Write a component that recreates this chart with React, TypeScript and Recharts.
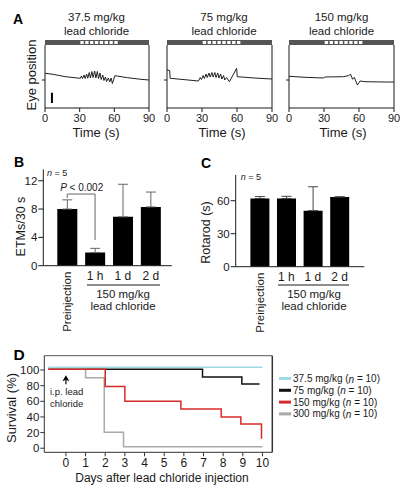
import React from "react";
import {
  LineChart,
  Line,
  XAxis,
  YAxis,
  BarChart,
  Bar,
  ErrorBar,
  ReferenceLine,
  ReferenceArea,
  ReferenceDot,
} from "recharts";

const FONT = "'Liberation Sans', Arial, Helvetica, sans-serif";
const INK = "#1a1a1a";

// ---- A: eye position traces (arbitrary units) vs time (s) ----
const timeTicks = [0, 30, 60, 90];
const stimStarts = [30.6, 34.8, 39.0, 43.2, 47.4, 51.6, 55.8, 60.0];
const stimWidth = 2.9;

const trace375: [number, number][] = [
  [0, 34.7], [7, 33.7], [17.5, 31.3], [30.6, 29.7],
  [31.5, 32], [32.5, 29.5], [33.8, 33], [34.8, 29.5], [36, 34], [37, 29.8],
  [38.3, 35.5], [39.3, 30], [40.6, 36.5], [41.6, 30.5], [43, 37], [44, 30],
  [45.3, 36.5], [46.3, 29.5], [47.6, 35], [48.6, 28.5], [50, 33], [51, 27.5],
  [52.3, 31], [53.3, 26.5], [54.8, 30], [56, 26], [57.2, 30], [58.3, 24.5],
  [60.5, 32.3], [71.4, 30.3], [83, 28.7], [90, 28],
];

const trace75: [number, number][] = [
  [0, 38], [2.3, 37.5], [2.7, 29.7], [15.4, 28.3], [26.9, 27],
  [28.5, 30.5], [29.5, 28.5], [31, 32.5], [32, 29.5], [33.5, 34], [34.5, 30.5],
  [36, 35], [37, 31], [38.5, 35.5], [39.5, 31], [41, 35.5], [42, 30.5],
  [43.5, 35], [44.5, 30], [46, 34], [47, 29], [48.5, 32.5], [49.5, 28],
  [51, 30.5], [53.5, 26.3], [59.7, 39.7], [60.2, 31.3], [75, 30], [90, 29],
];

const trace150: [number, number][] = [
  [0, 31.7], [13.7, 30.7], [29.4, 30], [30.9, 31], [46.6, 31.3], [50.8, 32.3],
  [52.8, 33.7], [54.5, 28.7], [56, 30.7], [58.6, 23], [60.9, 27], [65, 26.3],
  [82, 26], [90, 26],
];

const doseTitles = ["37.5 mg/kg", "75 mg/kg", "150 mg/kg"];

// ---- B / C: bar charts ----
const groups = ["Preinjection", "1 h", "1 d", "2 d"];
const etmMean = [8, 1.85, 6.9, 8.3];
const etmErr = [1.3, 0.6, 4.6, 2.1];
const rotarodMean = [62, 62, 51, 63.5];
const rotarodErr = [1.8, 2.0, 21.7, 0];

// ---- D: survival ----
const dayTicks = [0, 1, 2, 3, 4, 5, 6, 7, 8, 9, 10];
const survivalTicks = [0, 20, 40, 60, 80, 100];
const days375 = [-0.9, 10];
const pct375 = [103.5, 103.5];
const days75 = [-0.9, 6.95, 8.95, 9.85];
const pct75 = [101, 91, 82, 82];
const days150 = [-0.9, 2, 3, 5.85, 7.9, 8.9, 9.95];
const pct150 = [101, 79, 60, 50, 40, 31, 12];
const days300 = [-0.9, 1, 1.95, 2.93, 10];
const pct300 = [101, 90, 20.5, 2, 2];

const survivalSeries = [
  { key: "s375", label: "37.5 mg/kg", color: "#9fdbe4", days: days375, pct: pct375 },
  { key: "s75", label: "75 mg/kg", color: "#111111", days: days75, pct: pct75 },
  { key: "s150", label: "150 mg/kg", color: "#d62a2a", days: days150, pct: pct150 },
  { key: "s300", label: "300 mg/kg", color: "#a9a9a9", days: days300, pct: pct300 },
];
// drawing order (red on top of the shared 100% line)
const drawOrder = ["s375", "s75", "s300", "s150"];

const tickStyle = (size: number) => ({ fontSize: size, fill: INK, fontFamily: FONT });

function TraceChart({
  trace,
  left,
  width,
  scaleBar,
}: {
  trace: [number, number][];
  left: number;
  width: number;
  scaleBar?: boolean;
}) {
  const data = trace.map(([t, v]) => ({ t, v }));
  return (
    <div style={{ position: "absolute", left: left - 20, top: 0 }}>
      <LineChart
        width={width + 30}
        height={140}
        data={data}
        margin={{ top: 45, right: 10, bottom: 12, left: 14 }}
      >
        <XAxis
          dataKey="t"
          type="number"
          domain={[0, 90]}
          ticks={timeTicks}
          allowDataOverflow
          height={20}
          tickSize={4}
          tickMargin={2}
          stroke={INK}
          tick={tickStyle(11)}
        />
        <YAxis
          type="number"
          domain={[0, 63]}
          allowDataOverflow
          width={6}
          ticks={[28]}
          tickSize={3}
          tickFormatter={() => ""}
          stroke={INK}
        />
        <ReferenceLine x={90} stroke={INK} ifOverflow="visible" />
        <ReferenceArea
          x1={0}
          x2={90}
          y1={63}
          y2={68}
          fill="#555"
          fillOpacity={1}
          stroke="none"
          ifOverflow="visible"
        />
        {stimStarts.map((s) => (
          <ReferenceArea
            key={s}
            x1={s}
            x2={s + stimWidth}
            y1={64}
            y2={67}
            fill="#fff"
            fillOpacity={1}
            stroke="none"
            ifOverflow="visible"
          />
        ))}
        {scaleBar && (
          <ReferenceLine
            segment={[
              { x: 6, y: 5 },
              { x: 6, y: 15.3 },
            ]}
            stroke="#000"
            strokeWidth={2}
          />
        )}
        <Line
          dataKey="v"
          type="linear"
          stroke="#222"
          strokeWidth={1}
          dot={false}
          isAnimationActive={false}
        />
      </LineChart>
    </div>
  );
}

function GroupTick({ x, y, payload }: any) {
  if (payload.value === "Preinjection") {
    return (
      <text
        x={x}
        y={y}
        transform={`rotate(-90 ${x} ${y})`}
        textAnchor="end"
        dominantBaseline="central"
        fontSize={11.5}
        fill={INK}
        fontFamily={FONT}
      >
        Preinjection
      </text>
    );
  }
  return (
    <text x={x} y={y} dy="0.71em" textAnchor="middle" fontSize={12} fill={INK} fontFamily={FONT}>
      {payload.value}
    </text>
  );
}

export default function App() {
  const etmData = groups.map((g, i) => ({ group: g, mean: etmMean[i], err: [0, etmErr[i]] }));
  const rotData = groups.map((g, i) => ({ group: g, mean: rotarodMean[i], err: [0, rotarodErr[i]] }));

  const text = (size: number, extra: any = {}) => ({
    fontSize: size,
    fill: INK,
    fontFamily: FONT,
    ...extra,
  });

  const ArrowShape = (p: any) => {
    const { cx, cy } = p;
    return (
      <g>
        <path d={`M${cx} ${cy - 5} L${cx - 3.5} ${cy + 1} L${cx} ${cy - 0.5} L${cx + 3.5} ${cy + 1} Z`} fill="#000" />
        <line x1={cx} y1={cy - 1} x2={cx} y2={cy + 4} stroke="#000" strokeWidth={1.2} />
      </g>
    );
  };

  return (
    <div
      style={{
        position: "absolute",
        left: 0,
        top: 0,
        width: 411,
        height: 503,
        background: "#fff",
        overflow: "hidden",
      }}
    >
      {/* A */}
      <TraceChart trace={trace375} left={45} width={104} scaleBar />
      <TraceChart trace={trace75} left={167} width={105} />
      <TraceChart trace={trace150} left={289} width={105} />

      {/* B */}
      <div style={{ position: "absolute", left: 0, top: 160 }}>
        <BarChart
          width={185}
          height={175}
          data={etmData}
          margin={{ top: 9.4, right: 13.3, bottom: 9.3, left: 13.3 }}
        >
          <XAxis
            dataKey="group"
            height={60}
            padding={{ left: 10, right: 7 }}
            tickLine={false}
            tickSize={4}
            tickMargin={2}
            interval={0}
            stroke={INK}
            tick={<GroupTick />}
          />
          <YAxis
            type="number"
            domain={[0, 13.6]}
            allowDataOverflow
            ticks={[0, 4, 8, 12]}
            width={30}
            tickSize={5}
            tickMargin={1}
            stroke={INK}
            tick={tickStyle(11.5)}
          />
          <Bar dataKey="mean" fill="#000" barSize={20} isAnimationActive={false}>
            <ErrorBar dataKey="err" width={5} stroke="#666" strokeWidth={1} direction="y" isAnimationActive={false} />
          </Bar>
          <ReferenceLine
            segment={[
              { x: "Preinjection", y: 10.12 },
              { x: "1 h", y: 10.12 },
            ]}
            stroke="#666"
          />
          <ReferenceLine
            segment={[
              { x: "Preinjection", y: 10.12 },
              { x: "Preinjection", y: 9.56 },
            ]}
            stroke="#666"
          />
          <ReferenceLine
            segment={[
              { x: "1 h", y: 10.12 },
              { x: "1 h", y: 3.63 },
            ]}
            stroke="#666"
          />
        </BarChart>
      </div>

      {/* C */}
      <div style={{ position: "absolute", left: 195, top: 160 }}>
        <BarChart
          width={181.3}
          height={175}
          data={rotData}
          margin={{ top: 15, right: 12, bottom: 8.3, left: 10.7 }}
        >
          <XAxis
            dataKey="group"
            height={60}
            padding={{ left: 10.7, right: 11.5 }}
            tickLine={false}
            tickSize={4}
            tickMargin={2}
            interval={0}
            stroke={INK}
            tick={<GroupTick />}
          />
          <YAxis
            type="number"
            domain={[0, 83.4]}
            allowDataOverflow
            ticks={[0, 30, 60]}
            width={30}
            tickSize={5}
            tickMargin={1}
            stroke={INK}
            tick={tickStyle(11.5)}
          />
          <Bar dataKey="mean" fill="#000" barSize={19} isAnimationActive={false}>
            <ErrorBar dataKey="err" width={5} stroke="#444" strokeWidth={1} direction="y" isAnimationActive={false} />
          </Bar>
        </BarChart>
      </div>

      {/* D */}
      <div style={{ position: "absolute", left: 0, top: 340 }}>
        <LineChart width={411} height={163} margin={{ top: 15.7, right: 138.7, bottom: 10.7, left: 10.3 }}>
          <XAxis
            dataKey="day"
            type="number"
            domain={[-1.1, 10.5]}
            allowDataOverflow
            ticks={dayTicks}
            interval={0}
            height={40}
            tickSize={4}
            tickMargin={2}
            stroke="#333"
            tick={tickStyle(12)}
          />
          <YAxis
            type="number"
            domain={[-5.2, 118.3]}
            allowDataOverflow
            ticks={survivalTicks}
            interval={0}
            width={34}
            tickSize={4}
            tickMargin={1}
            stroke="#333"
            tick={tickStyle(11.5)}
          />
          <ReferenceLine y={118.3} stroke="#555" ifOverflow="visible" />
          <ReferenceLine x={10.5} stroke="#333" strokeWidth={1.5} ifOverflow="visible" />
          {drawOrder.map((k) => {
            const s = survivalSeries.find((x) => x.key === k)!;
            const data = s.days.map((d, i) => ({ day: d, pct: s.pct[i] }));
            return (
              <Line
                key={s.key}
                data={data}
                dataKey="pct"
                type="stepAfter"
                stroke={s.color}
                strokeWidth={1.5}
                dot={false}
                isAnimationActive={false}
              />
            );
          })}
          <ReferenceDot x={0} y={87} r={4} shape={ArrowShape} ifOverflow="visible" />
        </LineChart>
      </div>

      {/* text layer */}
      <svg
        width={411}
        height={503}
        style={{ position: "absolute", left: 0, top: 0, pointerEvents: "none" }}
      >
        {/* A */}
        <text x={18} y={18.5} dominantBaseline="central" textAnchor="middle" {...text(14, { fontWeight: "bold", fill: "#000" })}>
          A
        </text>
        {[96.5, 224, 341.5].map((cx, i) => (
          <g key={cx}>
            <text x={cx} y={17} textAnchor="middle" dominantBaseline="central" {...text(11.5)}>
              {doseTitles[i]}
            </text>
            <text x={cx} y={31} textAnchor="middle" dominantBaseline="central" {...text(11.5)}>
              lead chloride
            </text>
          </g>
        ))}
        {[96, 222, 343].map((cx) => (
          <text key={cx} x={cx} y={132} textAnchor="middle" dominantBaseline="central" {...text(13)}>
            Time (s)
          </text>
        ))}
        <text
          x={31}
          y={75}
          transform="rotate(-90 31 75)"
          textAnchor="middle"
          dominantBaseline="central"
          {...text(13)}
        >
          Eye position
        </text>

        {/* B */}
        <text x={19} y={161.7} dominantBaseline="central" textAnchor="middle" {...text(14, { fontWeight: "bold", fill: "#000" })}>
          B
        </text>
        <text
          x={21}
          y={226.5}
          transform="rotate(-90 21 226.5)"
          textAnchor="middle"
          dominantBaseline="central"
          {...text(12.5)}
        >
          ETMs/30 s
        </text>
        <text x={47} y={173.3} dominantBaseline="central" {...text(9)}>
          <tspan fontStyle="italic">n</tspan> = 5
        </text>
        <text x={81.7} y={187.3} textAnchor="middle" dominantBaseline="central" {...text(10)}>
          <tspan fontStyle="italic">P</tspan> {"< 0.002"}
        </text>
        <line x1={87} x2={160} y1={285} y2={285} stroke={INK} strokeWidth={1} />
        <text x={123} y={294} textAnchor="middle" dominantBaseline="central" {...text(11.5)}>
          150 mg/kg
        </text>
        <text x={123} y={306} textAnchor="middle" dominantBaseline="central" {...text(11.5)}>
          lead chloride
        </text>

        {/* C */}
        <text x={206} y={163} dominantBaseline="central" textAnchor="middle" {...text(14, { fontWeight: "bold", fill: "#000" })}>
          C
        </text>
        <text
          x={206}
          y={232.5}
          transform="rotate(-90 206 232.5)"
          textAnchor="middle"
          dominantBaseline="central"
          {...text(12.5)}
        >
          Rotarod (s)
        </text>
        <text x={240.7} y={177} dominantBaseline="central" {...text(9)}>
          <tspan fontStyle="italic">n</tspan> = 5
        </text>
        <line x1={278} x2={349} y1={285} y2={285} stroke={INK} strokeWidth={1} />
        <text x={314} y={294} textAnchor="middle" dominantBaseline="central" {...text(11.5)}>
          150 mg/kg
        </text>
        <text x={314} y={306} textAnchor="middle" dominantBaseline="central" {...text(11.5)}>
          lead chloride
        </text>

        {/* D */}
        <text x={19} y={354} dominantBaseline="central" textAnchor="middle" {...text(15.5, { fontWeight: "bold", fill: "#000" })}>
          D
        </text>
        <text
          x={11.7}
          y={408}
          transform="rotate(-90 11.7 408)"
          textAnchor="middle"
          dominantBaseline="central"
          {...text(13)}
        >
          Survival (%)
        </text>
        <text x={162} y={477.7} textAnchor="middle" dominantBaseline="central" {...text(12)}>
          Days after lead chloride injection
        </text>
        <text x={50} y={391.7} dominantBaseline="central" {...text(9.5)}>
          i.p. lead
        </text>
        <text x={50} y={403.3} dominantBaseline="central" {...text(9.5)}>
          chloride
        </text>
        {survivalSeries.map((s, i) => {
          const y = 378.5 + i * 11.8;
          return (
            <g key={s.key}>
              <line x1={279} x2={291} y1={y} y2={y} stroke={s.color} strokeWidth={3} />
              <text x={293} y={y} dominantBaseline="central" {...text(10)}>
                {s.label} (<tspan fontStyle="italic">n</tspan> = 10)
              </text>
            </g>
          );
        })}
      </svg>
    </div>
  );
}
